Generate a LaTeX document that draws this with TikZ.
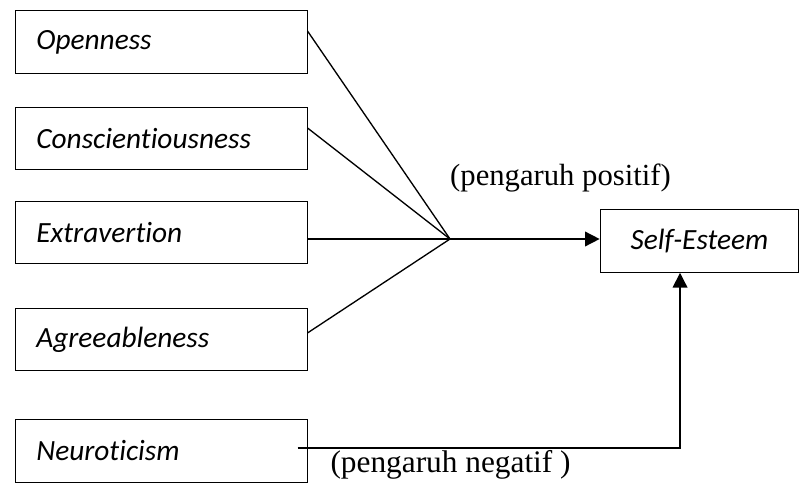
\documentclass[tikz,border=0pt]{standalone}
\usepackage{fontspec}
\setmainfont{Liberation Serif}
\newfontfamily\traitfont[Ligatures=NoCommon]{Carlito}
\usetikzlibrary{arrows.meta}

\tikzset{every picture/.style={line width=0.75pt}}
\tikzset{
  trait/.style={draw, line width=0.75pt, minimum width=219pt, minimum height=47pt,
    text width=187pt, inner xsep=16pt, align=left, font=\traitfont\itshape\fontsize{22}{26}\selectfont},
  link/.style={line width=1pt},
  tip/.style={-{Triangle[length=11pt,width=11pt]}}
}

\begin{document}
\begin{tikzpicture}[x=0.75pt,y=0.75pt,yscale=-1,xscale=1]
\path[use as bounding box] (0,0) rectangle (802,485);

% Boxes
\node [trait] (open) at (161,42) {Openness};
\node [trait] (consc) at (161,138.5) {Conscientiousness};
\node [trait] (extra) at (161,232.5) {Extravertion};
\node [trait] (agree) at (161,339.5) {Agreeableness};
\node [trait] (neuro) at (161,451) {Neuroticism};
\node [trait, minimum width=149pt, text width=, align=center, inner xsep=2pt] (self) at (699.5,241) {Self-Esteem};

% junction
\coordinate (J) at (450,239);

%Straight Lines
\draw [link] ([yshift=-8.25pt]open.east) -- (J);
\draw [link] ([yshift=-7.9pt]consc.east) -- (J);
\draw [link, line width=1.2pt] ([yshift=4.9pt]extra.east) -- (J);
\draw [link] ([yshift=-4.9pt]agree.east) -- (J);
\draw [link, line width=1.2pt, tip] (J) -- (J -| self.west);
\draw [link, tip] ([xshift=-7.5pt,yshift=-2.25pt]neuro.east) -| ([xshift=-14.6pt]self.south);

% Text Node
\node [font=\fontsize{23}{27}\selectfont] (pos) at (560.5,178) {(pengaruh positif)};
% Text Node
\node [font=\fontsize{23.5}{27}\selectfont, anchor=west, inner sep=0pt] (neg) at (330,465) {(pengaruh negatif )};

\end{tikzpicture}
\end{document}
